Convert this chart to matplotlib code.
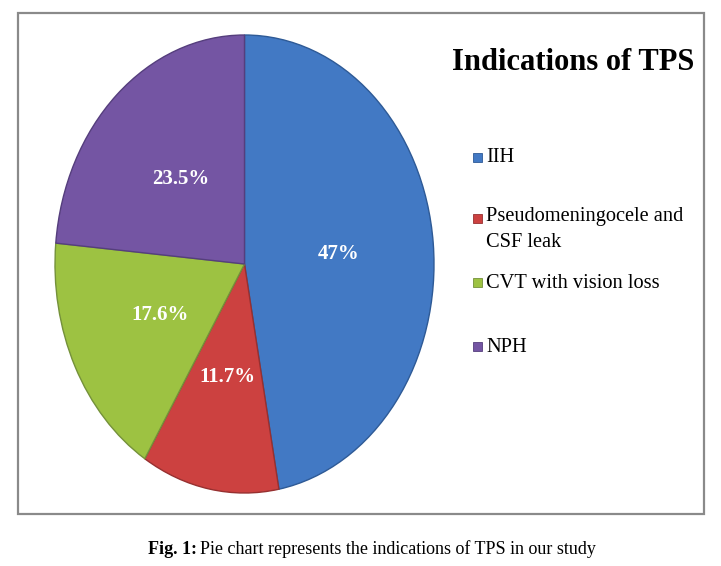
import matplotlib
matplotlib.use("Agg")
import matplotlib.pyplot as plt
import numpy as np
from matplotlib.patches import Rectangle

# data
labels = ["IIH", "Pseudomeningocele and\nCSF leak", "CVT with vision loss", "NPH"]
values = [47, 11.7, 17.6, 23.5]
pct_text = ["47%", "11.7%", "17.6%", "23.5%"]
colors = ["#4279C4", "#CC4140", "#9DC242", "#7455A3"]
edges = ["#2E5A96", "#973030", "#74913A", "#553E7D"]

W, H = 721, 566
fig = plt.figure(figsize=(W / 100, H / 100), dpi=100)
fig.patch.set_facecolor("white")

def fx(px):
    return px / W

def fy(py):
    return 1 - py / H

# frame around the chart
fig.patches.append(Rectangle((fx(18), fy(514)), fx(704) - fx(18), fy(13) - fy(514),
                             transform=fig.transFigure, fill=False,
                             edgecolor="#8a8a8a", linewidth=1.6))

#  ======================= pie =======================
ax = fig.add_axes([fx(55), fy(493), fx(434) - fx(55), fy(35) - fy(493)])
wedges, texts = ax.pie(values, colors=colors, startangle=90, counterclock=False,
                       radius=1, wedgeprops=dict(linewidth=1.0))
for w, ec in zip(wedges, edges):
    w.set_edgecolor(ec)
ax.set_aspect("auto")
ax.set_xlim(-1.0, 1.0)
ax.set_ylim(-1.0, 1.0)

total = sum(values)
ang = 90.0
for v, t in zip(values, pct_text):
    mid = ang - v / total * 360 / 2
    ang -= v / total * 360
    r = 0.5
    ax.text(r * np.cos(np.radians(mid)), r * np.sin(np.radians(mid)), t,
            ha="center", va="center", color="white", fontsize=15,
            fontweight="bold", family="Liberation Serif")

#  ======================= title / legend =======================
fig.text(fx(573), fy(63), "Indications of TPS", ha="center", va="center",
         fontsize=22, fontweight="bold", family="Liberation Serif")

leg_y = [158, 219, 283, 347]
for lab, c, ec, y in zip(labels, colors, edges, leg_y):
    fig.patches.append(Rectangle((fx(473), fy(y + 4)), fx(9), fy(0) - fy(9),
                                 transform=fig.transFigure, facecolor=c,
                                 edgecolor=ec, linewidth=0.6))
    if "\n" in lab:
        fig.text(fx(486), fy(y - 12), lab, ha="left", va="top",
                 fontsize=14.7, family="Liberation Serif", linespacing=1.5)
    else:
        fig.text(fx(486), fy(y), lab, ha="left", va="center",
                 fontsize=14.7, family="Liberation Serif")

# caption
fig.text(fx(197), fy(549), "Fig. 1:", ha="right", va="center", fontsize=13,
         fontweight="bold", family="Liberation Serif")
fig.text(fx(200), fy(549), "Pie chart represents the indications of TPS in our study",
         ha="left", va="center", fontsize=13, family="Liberation Serif")

fig.savefig("out.png", dpi=100)
